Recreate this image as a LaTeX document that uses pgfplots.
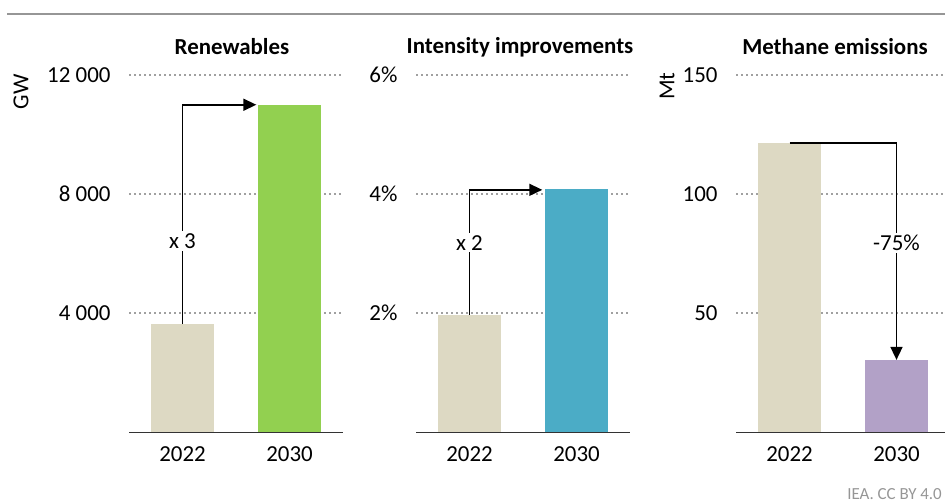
\documentclass[border=0pt]{standalone}
\usepackage{fontspec}
\setmainfont{Carlito}
\usepackage{pgfplots}
\pgfplotsset{compat=1.18}
\usetikzlibrary{arrows.meta}

\definecolor{ieabeige}{RGB}{221,217,195}
\definecolor{ieagreen}{RGB}{146,208,80}
\definecolor{ieablue}{RGB}{75,172,198}
\definecolor{ieapurple}{RGB}{178,161,199}
\definecolor{ieagrid}{RGB}{160,160,160}
\definecolor{iealine}{RGB}{150,150,150}

\tikzset{ieaarrow/.style={line width=1.6bp, -{Triangle[length=13bp,width=12bp]}}}

\pgfplotsset{
  ieapanel/.style={
    scale only axis,
    width=214bp, height=357bp,
    anchor=south west,
    ymin=0, xmin=-0.5, xmax=1.5,
    xtick={0,1}, xticklabels={2022,2030},
    scaled y ticks=false,
    axis x line*=bottom, axis y line*=left,
    y axis line style={draw=none},
    x axis line style={draw=black!80, line width=1bp},
    major tick length=0pt,
    ymajorgrids,
    major grid style={ieagrid, line width=1.6bp, dash pattern=on 1.6bp off 3.4bp},
    tick label style={font=\fontsize{23}{26}\selectfont},
    /pgf/number format/assume math mode=true,
    yticklabel style={xshift=-15bp},
    xticklabel style={yshift=-11bp},
    clip=false,
  },
  ieabar/.style={ybar, bar width=63bp, bar shift=0pt, draw=none, fill=#1},
}

\begin{document}
\begin{tikzpicture}
\useasboundingbox (0bp,0bp) rectangle (945bp,504bp);

% rule across the top
\draw[iealine, line width=2bp] (7bp,490bp) -- (945bp,490bp);

% Renewables
\begin{axis}[ieapanel, at={(129bp,72bp)}, ymax=12000,
    ytick={4000,8000,12000}, yticklabels={4 000,8 000,12 000}]
  \addplot[ieabar=ieabeige] coordinates {(0,3630)};
  \addplot[ieabar=ieagreen] coordinates {(1,11000)};
  \draw[ieaarrow] (axis cs:0,3630) -- (axis cs:0,11000) -- (axis cs:0.69,11000);
  \node[fill=white, inner sep=2bp, font=\fontsize{23}{26}\selectfont] at (axis cs:0,6420) {x 3};
\end{axis}

% Intensity improvements
\begin{axis}[ieapanel, at={(416bp,72bp)}, ymax=6,
    ytick={2,4,6}, yticklabels={2\%,4\%,6\%}]
  \addplot[ieabar=ieabeige] coordinates {(0,1.97)};
  \addplot[ieabar=ieablue] coordinates {(1,4.08)};
  \draw[ieaarrow] (axis cs:0,1.97) -- (axis cs:0,4.07) -- (axis cs:0.68,4.07);
  \node[fill=white, inner sep=2bp, font=\fontsize{23}{26}\selectfont] at (axis cs:0,3.18) {x 2};
\end{axis}

% Methane emissions
\begin{axis}[ieapanel, at={(736bp,72bp)}, ymax=150,
    ytick={50,100,150}, yticklabels={50,100,150}]
  \addplot[ieabar=ieabeige] coordinates {(0,121.4)};
  \addplot[ieabar=ieapurple] coordinates {(1,30.3)};
  \draw[ieaarrow] (axis cs:0,121.4) -- (axis cs:1,121.4) -- (axis cs:1,30.3);
  \node[fill=white, inner sep=2bp, font=\fontsize{23}{26}\selectfont] at (axis cs:1,79.4) {-75\%};
\end{axis}

% titles and units
\begin{scope}[font=\fontsize{23}{26}\selectfont]
  \node[font=\fontsize{23}{26}\selectfont\bfseries] at (232bp,457bp) {Renewables};
  \node[font=\fontsize{23}{26}\selectfont\bfseries] at (520bp,457bp) {Intensity improvements};
  \node[font=\fontsize{23}{26}\selectfont\bfseries] at (835bp,457bp) {Methane emissions};
  \node[rotate=90] at (21bp,412bp) {GW};
  \node[rotate=90] at (667bp,418bp) {Mt};
\end{scope}
\node[anchor=base east, text=iealine, inner sep=0pt, font=\fontsize{17}{20}\selectfont] at (942bp,5bp) {IEA. CC BY 4.0};
\end{tikzpicture}
\end{document}
